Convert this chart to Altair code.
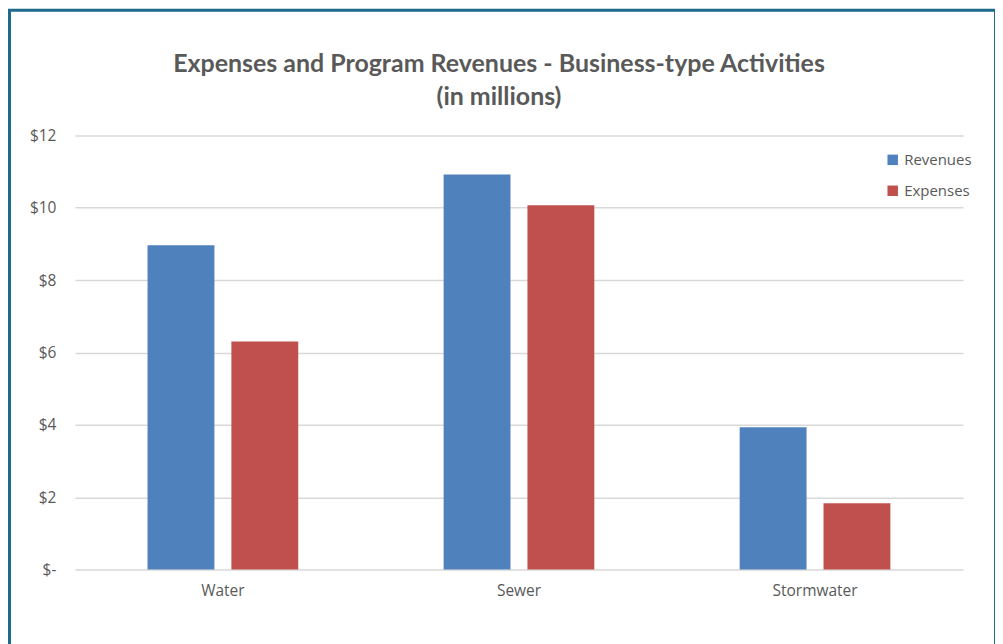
import altair as alt
import pandas as pd

categories = ["Water", "Sewer", "Stormwater"]
revenues = [8.96, 10.92, 3.93]
expenses = [6.30, 10.07, 1.83]
series = ["Revenues", "Expenses"]
colors = ["#4F81BD", "#C0504D"]
y_ticks = [0, 2, 4, 6, 8, 10, 12]
title_lines = ["Expenses and Program Revenues - Business-type Activities", "(in millions)"]

rows = []
for c, r, e in zip(categories, revenues, expenses):
    rows.append({"cat": c, "series": "Revenues", "value": r})
    rows.append({"cat": c, "series": "Expenses", "value": e})
df = pd.DataFrame(rows)

label_expr = "datum.value == 0 ? '$-' : '$' + format(datum.value, 'd')"

bars = alt.Chart(df).mark_bar().encode(
    x=alt.X("cat:N", sort=categories, title=None,
            scale=alt.Scale(paddingInner=0.491, paddingOuter=0.2455),
            axis=alt.Axis(labelAngle=0, labelFontSize=15.5, labelColor="#595959",
                          labelFont="Open Sans", labelPadding=14,
                          domain=False, ticks=False, grid=False)),
    xOffset=alt.XOffset("series:N", sort=series,
                        scale=alt.Scale(paddingInner=0.2024, paddingOuter=0)),
    y=alt.Y("value:Q", title=None,
            scale=alt.Scale(domain=[0, 12], nice=False),
            axis=alt.Axis(values=y_ticks, labelExpr=label_expr, labelFontSize=15.5,
                          labelColor="#595959", labelFont="Open Sans",
                          labelPadding=19, domain=False, ticks=False,
                          grid=True, gridColor="#D9D9D9", gridWidth=1.5)),
    color=alt.Color("series:N", sort=series,
                    scale=alt.Scale(domain=series, range=colors),
                    legend=alt.Legend(title=None, orient="none", legendX=812, legendY=17,
                                      symbolType="square", symbolSize=110,
                                      symbolStrokeWidth=0,
                                      labelFontSize=15, labelColor="#595959",
                                      labelFont="Open Sans", rowPadding=15,
                                      labelOffset=4)),
)

border = alt.Chart(pd.DataFrame({"a": [0]})).mark_rect(
    fill=None, stroke="#1F6A8A", strokeWidth=3, clip=False
).encode(
    x=alt.value(-65.5), x2=alt.value(922.5),
    y=alt.value(-125.5), y2=alt.value(600),
)

title_style = dict(font="Lato", fontSize=25, fontWeight="bold", color="#595959",
                   align="center", baseline="middle", clip=False)
title1 = alt.Chart(pd.DataFrame({"t": [title_lines[0]]})).mark_text(**title_style).encode(
    text="t:N", x=alt.value(425), y=alt.value(-72))
title2 = alt.Chart(pd.DataFrame({"t": [title_lines[1]]})).mark_text(**title_style).encode(
    text="t:N", x=alt.value(425), y=alt.value(-38))

chart = alt.layer(border, title1, title2, bars).properties(
    width=890, height=435,
    autosize=alt.AutoSizeParams(type="none"),
    padding={"left": 67, "top": 127, "right": 32, "bottom": 74},
    background="white",
).configure_view(stroke=None)

chart.save("out.html", embed_options={"renderer": "svg", "actions": False})
